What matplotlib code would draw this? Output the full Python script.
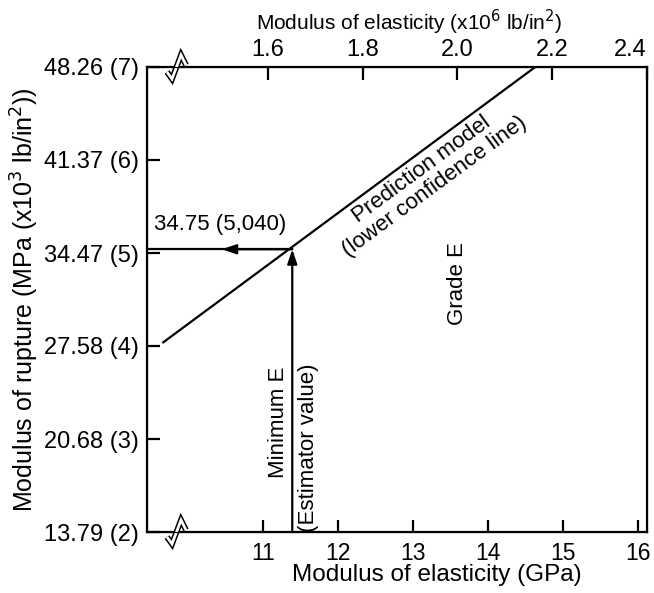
import numpy as np
import matplotlib
matplotlib.use('Agg')
import matplotlib.pyplot as plt
import matplotlib.transforms as mtransforms

plt.rcParams['font.family'] = ['Liberation Sans', 'DejaVu Sans']

# data
gpa_ticks = [11, 12, 13, 14, 15, 16]
psi_ticks = [1.6, 1.8, 2.0, 2.2, 2.4]
mor_ticks = [13.79, 20.68, 27.58, 34.47, 41.37, 48.26]
mor_labels = ['13.79 (2)', '20.68 (3)', '27.58 (4)', '34.47 (5)', '41.37 (6)', '48.26 (7)']
line_x = [9.67, 14.63]          # prediction model (GPa)
line_y = [27.85, 48.26]         # MPa
min_E = 11.39                   # GPa
mor_est = 34.75                 # MPa

xlim = (9.453, 16.12)
ylim = (13.79, 48.26)
top_lim = (1.3446, 2.4)

fs = 16
lw = 1.6
arrow = '-|>,head_length=0.86,head_width=0.29'

fig = plt.figure(figsize=(6.54, 5.93), dpi=100)
ax = fig.add_axes([147/654, 1-532/593, 500/654, 465/593])
ax.set_xlim(*xlim)
ax.set_ylim(*ylim)

ax.plot(line_x, line_y, color='k', lw=lw)
# vertical line with arrow
ax.annotate('', xy=(min_E, mor_est), xytext=(min_E, ylim[0]),
            arrowprops=dict(arrowstyle=arrow, color='k', lw=lw, shrinkA=0, shrinkB=0))
# horizontal line with arrow mid-way
ax.plot([xlim[0], min_E], [mor_est, mor_est], color='k', lw=lw)
ax.annotate('', xy=(10.45, mor_est), xytext=(min_E, mor_est),
            arrowprops=dict(arrowstyle=arrow, color='k', lw=lw, shrinkA=0, shrinkB=0))

ax.text(10.43, 36.55, '34.75 (5,040)', fontsize=fs, ha='center', va='center')
ax.text(13.2, 40.05, 'Prediction model\n(lower confidence line)', fontsize=fs,
        ha='center', va='center', rotation=36.3, rotation_mode='anchor',
        multialignment='center', linespacing=1.0)
ax.text(13.59, 32.17, 'Grade E', fontsize=fs, ha='center', va='center', rotation=90)
ax.text(11.2, 21.94, 'Minimum E', fontsize=fs, ha='center', va='center', rotation=90)
ax.text(11.6, 20.02, '(Estimator value)', fontsize=fs, ha='center', va='center', rotation=90)

ax.set_xticks(gpa_ticks)
ax.set_yticks(mor_ticks)
ax.set_yticklabels(mor_labels)
ax.tick_params(direction='in', length=9, width=lw, labelsize=17, pad=6)
ax.tick_params(axis='x', pad=7, labelsize=16.5)
for s in ax.spines.values():
    s.set_linewidth(lw)
ax.set_xlabel('Modulus of elasticity (GPa)', fontsize=17.5)
ax.xaxis.set_label_coords(0.58, -0.068)
ax.set_ylabel('Modulus of rupture (MPa (x10$^3$ lb/in$^2$))', fontsize=18, labelpad=2)

ax2 = ax.twiny()
ax2.set_xlim(*top_lim)
ax2.set_xticks(psi_ticks)
ax2.set_xticklabels(['%.1f' % v for v in psi_ticks])
ax2.tick_params(direction='in', length=9, width=lw, labelsize=17, pad=4)
ax2.get_xticklabels()[-1].set_horizontalalignment('right')
ax2.set_xlabel('Modulus of elasticity (x10$^6$ lb/in$^2$)', fontsize=15)
ax2.xaxis.set_label_coords(0.524, 1.08)

# axis break marks
zz = np.array([[-10, -5], [-5, -12], [4, 12], [9, 2]]) / 100.0
for ya in [0, 1]:
    tr = fig.dpi_scale_trans + mtransforms.ScaledTranslation(
        (177 - 147) / 500, ya, ax.transAxes)
    ax.plot(zz[:, 0], zz[:, 1], color='k', lw=4.2, transform=tr, clip_on=False,
            zorder=5, solid_capstyle='butt', solid_joinstyle='miter')
    ax.plot(zz[:, 0], zz[:, 1], color='white', lw=2.0, transform=tr, clip_on=False,
            zorder=6, solid_capstyle='butt', solid_joinstyle='miter')

fig.savefig('out.png', dpi=100)
